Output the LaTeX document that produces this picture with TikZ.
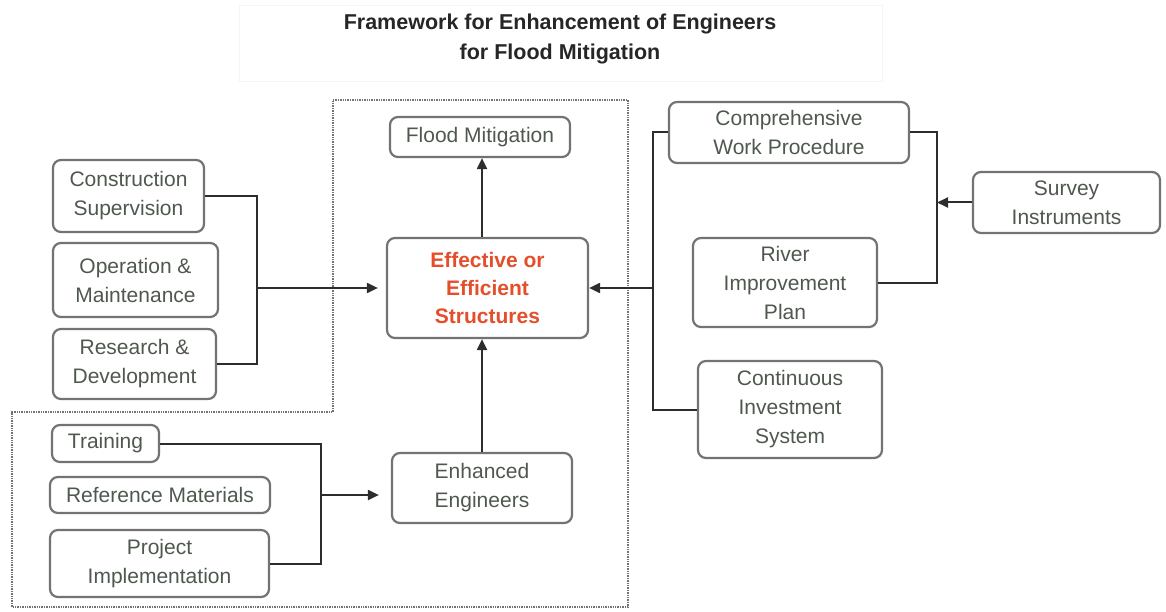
\documentclass[tikz,border=0pt]{standalone}
\usepackage{fontspec}
\setmainfont{Liberation Sans}
\usetikzlibrary{arrows.meta}
\definecolor{txt}{RGB}{78,88,78}
\definecolor{boxc}{RGB}{115,115,115}
\definecolor{linec}{RGB}{45,45,45}
\definecolor{redt}{RGB}{228,78,42}
\begin{document}
\begin{tikzpicture}[x=1pt,y=-1pt,
  box/.style={draw=boxc,line width=2.2pt,rounded corners=8pt,inner sep=0pt,
    align=center,text=txt,font=\fontsize{21}{29}\selectfont},
  conn/.style={draw=linec,line width=2pt},
  arr/.style={conn,-{Triangle[length=11pt,width=10pt]}},
  dotline/.style={draw=boxc,line width=1.4pt,densely dotted}]
\useasboundingbox (0,0) rectangle (1166,612);
% faint title frame
\draw[black!4,line width=1pt] (239,6) rectangle (882,82);
\node[font=\bfseries\fontsize{21.5}{30}\selectfont,text=black!85,align=center] (title) at (560,39)
  {Framework for Enhancement of Engineers\\for Flood Mitigation};
% dotted region
\draw[dotline] (333,100) -- (628,100) -- (628,607) -- (12,607) -- (12,412) -- (333,412) -- cycle;
% nodes
\node[box,minimum width=180pt,minimum height=40pt] (flood) at (480,137) {Flood Mitigation};
\node[box,minimum width=201pt,minimum height=100pt,text=redt,font=\bfseries\fontsize{21}{28}\selectfont] (eff) at (487.5,288) {Effective or\\Efficient\\Structures};
\node[box,minimum width=151pt,minimum height=72pt] (cons) at (128.5,196) {Construction\\Supervision};
\node[box,minimum width=165pt,minimum height=74pt] (oper) at (135.5,280) {Operation \&\\Maintenance};
\node[box,minimum width=163pt,minimum height=70pt] (rnd) at (134.5,364) {Research \&\\Development};
\node[box,minimum width=240pt,minimum height=61pt] (comp) at (789,132.5) {Comprehensive\\Work Procedure};
\node[box,minimum width=187pt,minimum height=61pt] (surv) at (1066.5,202.5) {Survey\\Instruments};
\node[box,minimum width=184pt,minimum height=89pt] (river) at (785,282.5) {River\\Improvement\\Plan};
\node[box,minimum width=184pt,minimum height=97pt] (cont) at (790,409.5) {Continuous\\Investment\\System};
\node[box,minimum width=107pt,minimum height=37pt] (train) at (105.5,443.5) {Training};
\node[box,minimum width=220pt,minimum height=36pt] (refm) at (160,495) {Reference Materials};
\node[box,minimum width=219pt,minimum height=67pt] (proj) at (159.5,563.5) {Project\\Implementation};
\node[box,minimum width=180pt,minimum height=70pt] (enh) at (482,488) {Enhanced\\Engineers};
% connectors
\coordinate (lbt) at (257,196);
\coordinate (lbm) at (257,288);
\draw[conn] (cons.east) -- (lbt) |- (rnd.east);
\draw[arr,shorten >=8pt] (lbm) -- (eff.west);
\coordinate (rbl) at (653,132.5);
\coordinate (rbm) at (653,288);
\draw[conn] (comp.west) -- (rbl) |- (cont.west);
\draw[arr] (rbm) -- (eff.east);
\coordinate (rbr) at (937,132.5);
\coordinate (rbs) at (937,202.5);
\draw[conn] (comp.east) -- (rbr) |- (river.east);
\draw[arr] (surv.west) -- (rbs);
\coordinate (bbt) at (321,443.5);
\coordinate (bbm) at (321,495);
\draw[conn] (train.east) -- (bbt) |- (proj.east);
\draw[arr,shorten >=12pt] (bbm) -- (bbm -| enh.west);
\draw[arr] (eff.north -| enh.north) -- (flood.south -| enh.north);
\draw[arr] (enh.north) -- (eff.south -| enh.north);
\end{tikzpicture}
\end{document}
